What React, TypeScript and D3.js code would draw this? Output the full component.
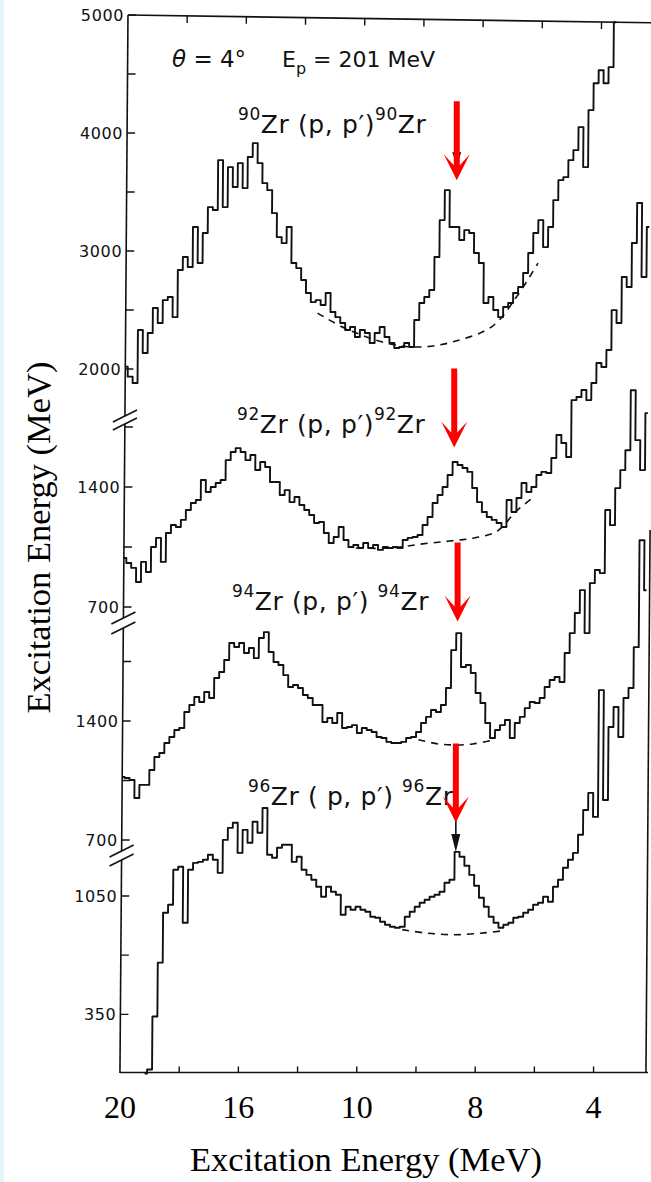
import React from "react";
import * as d3 from "d3";

const W = 651;
const H = 1182;

// ---- energy axis ----------------------------------------------------------
const DIVISIONS = 9; // major divisions along the energy axis
const BINS_PER_DIVISION = 12; // histogram channels per division
const xTickDivisions = [0, 1, 2, 3, 4, 5, 6, 7, 8];
const xLabelDivisions = [0, 2, 4, 6, 8];
const xLabelText = ["20", "16", "10", "8", "4"];

// ---- counts per channel for each target ----------------------------------
const zr90Start = 0;
const zr90Counts = [
  2020, 1935, 1881, 2330, 2136, 2305, 2517, 2390, 2584, 2610,
  2440, 2839, 2949, 2864, 3203, 2898, 3152, 3372, 3347, 3770,
  3372, 3711, 3542, 3745, 3533, 3796, 3914, 3745, 3575, 3516,
  3321, 3118, 3067, 3203, 2898, 2855, 2754, 2644, 2567, 2584,
  2542, 2644, 2483, 2440, 2390, 2330, 2356, 2271, 2330, 2305,
  2220, 2305, 2356, 2271, 2220, 2178, 2186, 2220, 2186, 2415,
  2559, 2610, 2669, 2949, 3262, 3516, 3203, 3203, 3093, 3177,
  3152, 2983, 2898, 2559, 2610, 2500, 2440, 2525, 2559, 2644,
  2695, 2813, 2983, 3152, 3262, 3033, 3203, 3431, 3601, 3626,
  3770, 3855, 4050, 3711, 4194, 4422, 4532, 4422, 4558, 4939,
];
const zr90BgBins = [38.9, 44.4, 52.9, 59.6, 66.3, 74.4, 79.3, 83.5];
const zr90BgCounts = [2474, 2347, 2220, 2186, 2229, 2364, 2618, 2898];

const zr92Start = 0;
const zr92Counts = [
  986, 957, 928, 846, 963, 904, 1050, 1103, 963, 1132,
  1178, 1167, 1208, 1266, 1307, 1324, 1441, 1371, 1400, 1423,
  1441, 1557, 1604, 1627, 1604, 1557, 1587, 1499, 1546, 1517,
  1429, 1429, 1353, 1382, 1312, 1342, 1295, 1266, 1237, 1190,
  1196, 1132, 1073, 1108, 1167, 1091, 1050, 1062, 1044, 1073,
  1044, 1062, 1033, 1050, 1044, 1050, 1044, 1091, 1103, 1108,
  1120, 1178, 1225, 1307, 1353, 1400, 1470, 1546, 1528, 1511,
  1488, 1394, 1312, 1254, 1225, 1208, 1190, 1167, 1324, 1254,
  1336, 1423, 1371, 1400, 1470, 1488, 1482, 1569, 1703, 1657,
  1575, 1907, 1925, 1966, 1907, 2007, 2123, 2100, 2199, 2432,
  2357, 2625, 2567, 2823, 3057, 2625, 2917,
];
const zr92BgBins = [47, 54, 60.5, 66, 71, 75.5, 79.5, 82.5];
const zr92BgCounts = [1044, 1044, 1068, 1085, 1103, 1140, 1260, 1330];

const zr94Start = 0;
const zr94Counts = [
  1071, 1065, 1053, 947, 1024, 1024, 1112, 1188, 1212, 1271,
  1306, 1347, 1359, 1453, 1494, 1541, 1512, 1571, 1535, 1653,
  1688, 1759, 1859, 1835, 1859, 1800, 1829, 1770, 1888, 1923,
  1806, 1747, 1729, 1670, 1600, 1612, 1594, 1553, 1535, 1494,
  1494, 1394, 1418, 1388, 1447, 1359, 1365, 1376, 1329, 1359,
  1347, 1335, 1306, 1300, 1277, 1271, 1271, 1277, 1300, 1306,
  1335, 1388, 1424, 1465, 1453, 1494, 1594, 1817, 1917, 1718,
  1729, 1682, 1565, 1506, 1388, 1300, 1347, 1376, 1406, 1300,
  1388, 1424, 1476, 1512, 1506, 1535, 1600, 1641, 1659, 1629,
  1800, 1917, 2035, 2170, 1917, 2211, 2288, 2270, 2641, 2552,
  2770, 2876, 2993, 3346, 3052, 2876, 3211,
];
const zr94BgBins = [60, 64, 67.5, 71, 75.4];
const zr94BgCounts = [1290, 1265, 1259, 1265, 1290];

const zr96Start = 5;
const zr96Counts = [
  0, 24, 337, 656, 951, 998, 1205, 1223, 892, 1205,
  1246, 1252, 1264, 1294, 1264, 1187, 1382, 1453, 1483, 1305,
  1441, 1365, 1489, 1424, 1571, 1294, 1276, 1335, 1353, 1353,
  1252, 1282, 1205, 1175, 1146, 1105, 1046, 1105, 1075, 1057,
  939, 986, 969, 986, 969, 957, 927, 921, 898, 880,
  868, 862, 868, 927, 957, 986, 1010, 1028, 1046, 1057,
  1075, 1128, 1146, 1311, 1282, 1229, 1175, 1111, 1040, 986,
  927, 892, 862, 880, 892, 921, 927, 951, 969, 998,
  1010, 1046, 1016, 1105, 1146, 1217, 1264, 1305, 1412, 1559,
  1660, 1518, 2268, 1618, 2050, 2168, 1991, 2221, 2280, 2522,
  3154, 2859,
];
const zr96BgBins = [57, 62, 67.5, 73, 77.5];
const zr96BgCounts = [851, 830, 821, 830, 845];

// ---- count axes of the four stacked panels --------------------------------
const panel1Ticks = [2000, 2500, 3000, 3500, 4000, 4500, 5000];
const panel1Labels = [2000, 3000, 4000, 5000];
const panel2Ticks = [700, 1050, 1400, 1750];
const panel2Labels = [700, 1400];
const panel3Ticks = [700, 1050, 1400, 1750];
const panel3Labels = [700, 1400];
const panel4Ticks = [350, 700, 1050];
const panel4Labels = [350, 1050];

// reaction labels and marked peaks
const isotopes = ["90", "92", "94", "96"];
const arrowBins = [66.9, 66.8, 67.75, 67.7];
const arrowTipCounts = [3600, 1630, 1986, 1485];

// ---- layout ---------------------------------------------------------------
const LEFT = 120;
const DIV_PX = 59.2;
const SHIFT = 8.1; // the frame leans slightly: x offset at y = 0
const SHEAR = -0.0076; // ... changing with height
const screenX = (px: number, py: number) => px + SHIFT + SHEAR * py;

const x = d3
  .scaleLinear()
  .domain([0, DIVISIONS * BINS_PER_DIVISION])
  .range([LEFT, LEFT + DIVISIONS * DIV_PX]);
const divX = (d: number) => x(d * BINS_PER_DIVISION);

const panels = [
  {
    y: d3.scaleLinear().domain([2000, 5000]).range([369, 15]),
    ticks: panel1Ticks,
    labels: panel1Labels,
    axis: [15, 416],
  },
  {
    y: d3.scaleLinear().domain([700, 1400]).range([607, 487]),
    ticks: panel2Ticks,
    labels: panel2Labels,
    axis: [424, 618],
  },
  {
    y: d3.scaleLinear().domain([700, 1400]).range([840, 721]),
    ticks: panel3Ticks,
    labels: panel3Labels,
    axis: [628, 851],
  },
  {
    y: d3.scaleLinear().domain([0, 1050]).range([1073.5, 896]),
    ticks: panel4Ticks,
    labels: panel4Labels,
    axis: [860, 1073],
  },
];
const breaks = [416, 424, 618, 628, 851, 860];

const spectra = [
  { start: zr90Start, counts: zr90Counts, bgBins: zr90BgBins, bgCounts: zr90BgCounts },
  { start: zr92Start, counts: zr92Counts, bgBins: zr92BgBins, bgCounts: zr92BgCounts },
  { start: zr94Start, counts: zr94Counts, bgBins: zr94BgBins, bgCounts: zr94BgCounts },
  { start: zr96Start, counts: zr96Counts, bgBins: zr96BgBins, bgCounts: zr96BgCounts },
];

const reactionLabels = [
  { x: 238, y: 133, mid: "Zr (p, p\u2032)" },
  { x: 237, y: 433, mid: "Zr (p, p\u2032)" },
  { x: 232, y: 610, mid: "Zr (p, p\u2032) " },
  { x: 248, y: 805, mid: "Zr ( p, p\u2032) " },
];

const BOTTOM = 1072.5;
const topBorderY = (sx: number) => 15 + (sx - 128) * 0.0148;

const SANS = "'DejaVu Sans', sans-serif";
const SERIF = "'Liberation Serif', 'Times New Roman', serif";
const INK = "#111";

function stepPath(start: number, counts: number[], y: d3.ScaleLinear<number, number>) {
  return d3
    .line<number>()
    .x((_, i) => x(start + i))
    .y((d) => y(d))
    .curve(d3.curveStep)(counts) as string;
}

function backgroundPath(bins: number[], counts: number[], y: d3.ScaleLinear<number, number>) {
  return d3
    .line<number>()
    .x((b) => x(b))
    .y((_, i) => y(counts[i]))
    .curve(d3.curveCatmullRom.alpha(0.5))(bins) as string;
}

function redArrow(tipX: number, tipY: number) {
  const len = 79;
  const head = 26;
  const half = 13;
  const notch = 17;
  const sw = 3;
  return [
    `M${tipX - sw},${tipY - len}`,
    `L${tipX + sw},${tipY - len}`,
    `L${tipX + sw},${tipY - notch + 2}`,
    `L${tipX + half},${tipY - head}`,
    `L${tipX},${tipY}`,
    `L${tipX - half},${tipY - head}`,
    `L${tipX - sw},${tipY - notch + 2}`,
    "Z",
  ].join(" ");
}

export default function App() {
  const arrowTips = arrowBins.map((b, i) => {
    const ty = panels[i].y(arrowTipCounts[i]);
    return { x: screenX(x(b), ty), y: ty };
  });
  const peak96 = panels[3].y(zr96Counts[68 - zr96Start]);

  return (
    <svg
      width={W}
      height={H}
      viewBox={`0 0 ${W} ${H}`}
      style={{ position: "absolute", left: 0, top: 0, background: "#fff" }}
    >
      <rect x={0} y={0} width={4} height={H} fill="#e3f5fb" />

      {/* top border, drawn on its own slope */}
      <line x1={128} y1={topBorderY(128)} x2={W} y2={topBorderY(W)} stroke={INK} strokeWidth={1.6} />
      {/* bottom axis */}
      <line x1={LEFT} y1={BOTTOM} x2={648} y2={BOTTOM} stroke={INK} strokeWidth={1.6} />

      <g transform={`matrix(1,0,${SHEAR},1,${SHIFT},0)`}>
        {/* left axis segments and breaks */}
        {panels.map((p, i) => (
          <line key={"ax" + i} x1={LEFT} x2={LEFT} y1={p.axis[0]} y2={p.axis[1]} stroke={INK} strokeWidth={1.6} />
        ))}
        {breaks.map((by, i) => (
          <line key={"br" + i} x1={LEFT - 12} y1={by + 6} x2={LEFT + 12} y2={by - 6} stroke={INK} strokeWidth={1.6} />
        ))}
        {panels.map((p, i) =>
          p.ticks.map((t) => (
            <line key={`t${i}-${t}`} x1={LEFT} x2={LEFT + 8} y1={p.y(t)} y2={p.y(t)} stroke={INK} strokeWidth={1.4} />
          ))
        )}
        {/* right frame */}
        <line x1={646} x2={646} y1={530} y2={BOTTOM} stroke={INK} strokeWidth={1.6} />
        {/* energy ticks on both horizontal edges */}
        {xTickDivisions.slice(1).map((d) => {
          const sx = screenX(divX(d), 18);
          const ty = topBorderY(sx);
          return (
            <g key={"xt" + d}>
              <line x1={divX(d)} x2={divX(d)} y1={ty} y2={ty + 7} stroke={INK} strokeWidth={1.4} />
              <line x1={divX(d)} x2={divX(d)} y1={BOTTOM} y2={BOTTOM - 6} stroke={INK} strokeWidth={1.4} />
            </g>
          );
        })}

        {/* spectra */}
        {spectra.map((s, i) => (
          <path
            key={"sp" + i}
            d={stepPath(s.start, s.counts, panels[i].y)}
            fill="none"
            stroke={INK}
            strokeWidth={1.9}
            strokeLinejoin="round"
          />
        ))}
        {/* fitted continuum under the peak */}
        {spectra.map((s, i) => (
          <path
            key={"bg" + i}
            d={backgroundPath(s.bgBins, s.bgCounts, panels[i].y)}
            fill="none"
            stroke={INK}
            strokeWidth={1.6}
            strokeDasharray="7,6"
          />
        ))}
      </g>

      {/* count labels */}
      {panels.map((p, i) =>
        p.labels.map((t) => {
          const ty = p.y(t);
          return (
            <text
              key={`l${i}-${t}`}
              x={screenX(LEFT, ty) - 4}
              y={ty + 6}
              textAnchor="end"
              fontFamily={SANS}
              fontSize={16}
              letterSpacing={0.6}
              fill={INK}
            >
              {t}
            </text>
          );
        })
      )}

      {/* header */}
      <text x={172} y={67} fontFamily={SANS} fontSize={23} fill={INK}>
        <tspan fontStyle="italic">θ</tspan> = 4°
      </text>
      <text x={282} y={67} fontFamily={SANS} fontSize={22} fill={INK}>
        E
        <tspan dy={7} fontSize={16}>
          p
        </tspan>
        <tspan dy={-7}> = 201 MeV</tspan>
      </text>

      {/* reaction labels */}
      {reactionLabels.map((r, i) => (
        <text key={"rl" + i} x={r.x} y={r.y} fontFamily={SANS} fontSize={25} letterSpacing={0.6} fill={INK}>
          <tspan dy={-13} fontSize={17}>
            {isotopes[i]}
          </tspan>
          <tspan dy={13}>{r.mid}</tspan>
          <tspan dy={-13} fontSize={17}>
            {isotopes[i]}
          </tspan>
          <tspan dy={13}>Zr</tspan>
        </text>
      ))}

      {/* original markers under the highlighted peaks */}
      <path
        d={`M${arrowTips[0].x - 4.5},${arrowTips[0].y - 28} L${arrowTips[0].x + 4.5},${arrowTips[0].y - 28} L${arrowTips[0].x},${arrowTips[0].y - 15} Z`}
        fill={INK}
      />
      <line
        x1={arrowTips[3].x}
        x2={arrowTips[3].x}
        y1={arrowTips[3].y - 20}
        y2={peak96 - 16}
        stroke={INK}
        strokeWidth={1.6}
      />
      <path
        d={`M${arrowTips[3].x - 4.5},${peak96 - 18} L${arrowTips[3].x + 4.5},${peak96 - 18} L${arrowTips[3].x},${peak96} Z`}
        fill={INK}
      />

      {/* highlighted peaks */}
      {arrowTips.map((a, i) => (
        <path key={"ar" + i} d={redArrow(a.x, a.y)} fill="#ff0000" />
      ))}

      {/* energy labels */}
      {xLabelDivisions.map((d, i) => (
        <text
          key={"xl" + d}
          x={screenX(divX(d), BOTTOM)}
          y={1118}
          textAnchor="middle"
          fontFamily={SERIF}
          fontSize={32}
          fill="#000"
        >
          {xLabelText[i]}
        </text>
      ))}

      {/* axis titles */}
      <text x={366} y={1171} textAnchor="middle" fontFamily={SERIF} fontSize={34.5} fill="#000">
        Excitation Energy (MeV)
      </text>
      <text
        transform="translate(50,537.5) rotate(-90)"
        textAnchor="middle"
        fontFamily={SERIF}
        fontSize={34.5}
        fill="#000"
      >
        Excitation Energy (MeV)
      </text>
    </svg>
  );
}
